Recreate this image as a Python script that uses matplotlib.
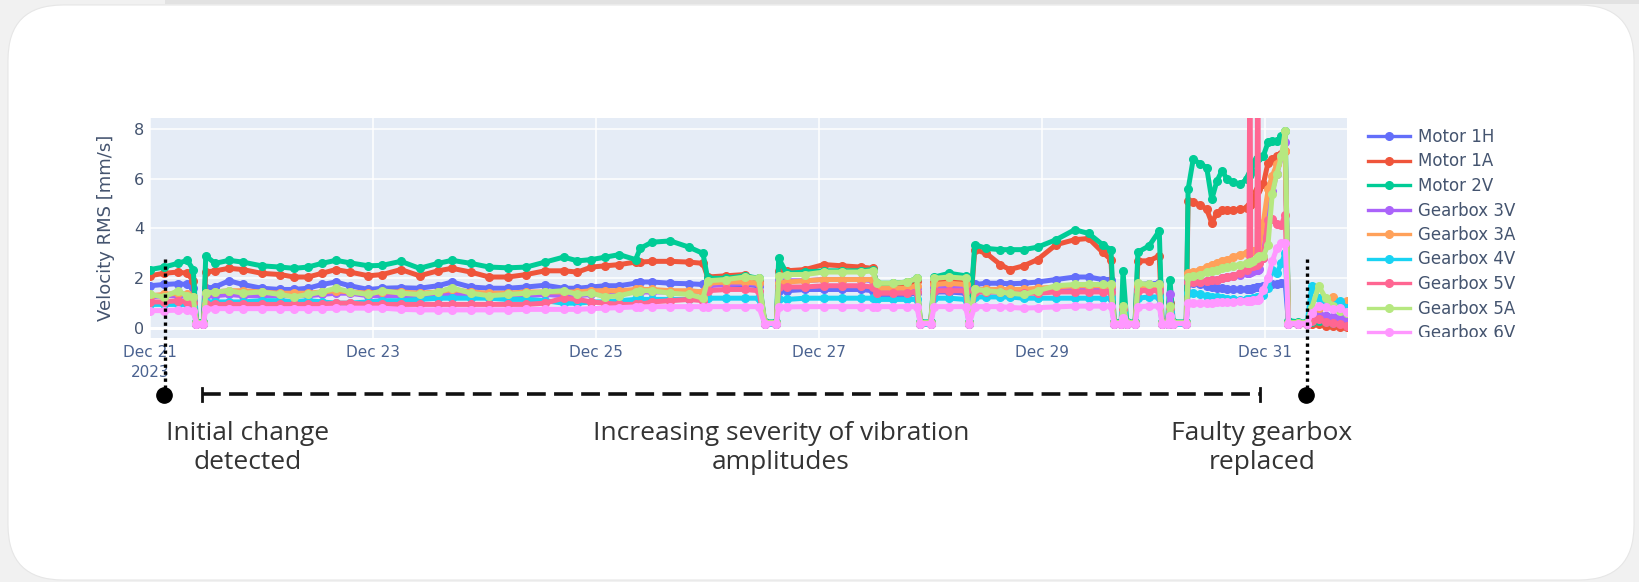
import matplotlib
matplotlib.use('Agg')
import matplotlib.pyplot as plt
import matplotlib.dates as mdates
from matplotlib.patches import FancyBboxPatch, Rectangle
from matplotlib.lines import Line2D
import datetime

# sample times, hours after 2023-12-21 00:00
hours = [0, 3, 6, 8, 9.3, 10, 11.5, 12, 14, 17,
         20, 24, 28, 31, 34, 37, 40, 43, 47, 50,
         54, 58, 62, 65, 69, 73, 77, 81, 85, 89,
         92, 95, 98, 101, 104.5, 105.5, 108, 112, 116, 119,
         120, 124, 128, 131, 132.3, 134.8, 135.3, 137, 141, 145,
         149, 153, 155.5, 156.5, 160, 163, 165, 165.8, 168, 168.8,
         172, 175.5, 176.3, 177.5, 180, 183, 185, 188, 191, 195,
         199, 202, 205, 206.8, 207.5, 209, 209.4, 210.2, 212, 212.6,
         215, 217.2, 217.8, 219, 219.5, 220.2, 223, 223.4, 224.5, 226,
         227.4, 228.5, 229.6, 230.7, 231.8, 233, 234.6, 236, 236.5, 236.7,
         236.9, 237.4, 238.2, 238.4, 238.6, 239.6, 240.6, 241.5, 242.5, 243.5,
         244.3, 245, 247, 249, 250, 251.5, 253, 254.5, 256, 257.5]

motor_1h = [1.70, 1.75, 1.78, 1.75, 1.60, 0.20, 0.20, 1.60, 1.65, 1.90,
            1.75, 1.60, 1.55, 1.55, 1.60, 1.75, 1.85, 1.70, 1.55, 1.60,
            1.62, 1.60, 1.70, 1.85, 1.65, 1.60, 1.60, 1.65, 1.72, 1.60,
            1.60, 1.65, 1.70, 1.70, 1.80, 1.85, 1.85, 1.80, 1.78, 1.75,
            1.75, 1.75, 1.75, 1.70, 0.20, 0.20, 1.50, 1.50, 1.55, 1.55,
            1.55, 1.55, 1.50, 1.35, 1.35, 1.35, 1.40, 0.20, 0.20, 1.45,
            1.45, 1.40, 0.20, 1.75, 1.80, 1.80, 1.78, 1.80, 1.85, 1.95,
            2.05, 2.05, 1.95, 1.95, 0.20, 0.20, 0.90, 0.20, 0.20, 1.75,
            1.78, 1.80, 0.20, 0.20, 0.90, 0.20, 0.20, 1.80, 1.80, 1.75,
            1.70, 1.65, 1.60, 1.60, 1.55, 1.55, 1.55, 1.55, 1.55, 1.55,
            1.55, 1.60, 1.65, 1.65, 1.65, 1.70, 1.73, 1.75, 1.78, 1.80,
            1.80, 0.20, 0.20, 0.20, 0.40, 0.45, 0.50, 0.45, 0.40, 0.40]

motor_1a = [2.10, 2.20, 2.25, 2.20, 1.90, 0.20, 0.20, 2.25, 2.30, 2.40,
            2.35, 2.20, 2.15, 2.05, 2.05, 2.20, 2.35, 2.25, 2.10, 2.15,
            2.35, 2.10, 2.30, 2.40, 2.25, 2.05, 2.05, 2.15, 2.30, 2.30,
            2.25, 2.45, 2.50, 2.55, 2.65, 2.65, 2.68, 2.68, 2.65, 2.60,
            2.05, 2.10, 2.15, 1.90, 0.20, 0.20, 2.30, 2.30, 2.35, 2.55,
            2.50, 2.45, 2.40, 1.75, 1.75, 1.75, 1.90, 0.20, 0.20, 1.85,
            1.95, 1.90, 0.20, 3.15, 3.00, 2.55, 2.35, 2.50, 2.75, 3.35,
            3.55, 3.60, 3.05, 2.75, 0.20, 0.20, 0.90, 0.20, 0.20, 2.70,
            2.70, 2.90, 0.20, 0.20, 1.00, 0.20, 0.20, 5.10, 5.05, 4.95,
            4.77, 4.23, 4.63, 4.75, 4.75, 4.75, 4.77, 4.83, 4.90, 4.95,
            5.00, 5.17, 5.50, 5.60, 5.70, 5.78, 6.65, 6.80, 6.92, 7.00,
            7.12, 0.20, 0.18, 0.15, 0.15, 0.15, 0.10, 0.10, 0.05, 0.05]

motor_2v = [2.35, 2.45, 2.60, 2.72, 2.35, 0.25, 0.25, 2.90, 2.60, 2.72,
            2.65, 2.50, 2.45, 2.40, 2.45, 2.60, 2.72, 2.62, 2.50, 2.52,
            2.68, 2.40, 2.60, 2.72, 2.60, 2.45, 2.42, 2.45, 2.65, 2.85,
            2.70, 2.75, 2.85, 2.95, 2.75, 3.20, 3.45, 3.50, 3.25, 3.00,
            2.00, 2.00, 2.10, 2.00, 0.25, 0.25, 2.80, 2.20, 2.25, 2.30,
            2.30, 2.30, 2.35, 1.80, 1.80, 1.85, 2.00, 0.25, 0.25, 2.05,
            2.20, 2.10, 0.25, 3.35, 3.20, 3.15, 3.15, 3.15, 3.25, 3.55,
            3.95, 3.80, 3.35, 3.15, 0.25, 0.25, 2.28, 0.25, 0.25, 3.05,
            3.30, 3.90, 0.25, 0.25, 1.95, 0.25, 0.25, 5.57, 6.78, 6.60,
            6.45, 5.17, 5.91, 6.32, 5.98, 5.85, 5.78, 5.98, 6.10, 6.20,
            6.30, 6.65, 6.80, 6.85, 6.88, 6.92, 7.46, 7.50, 7.53, 7.70,
            7.93, 0.30, 0.25, 0.25, 0.25, 0.30, 0.25, 0.20, 0.20, 0.20]

gearbox_3v = [1.25, 1.30, 1.30, 1.30, 1.20, 0.18, 0.18, 1.30, 1.30, 1.35,
              1.30, 1.30, 1.30, 1.30, 1.30, 1.35, 1.40, 1.40, 1.30, 1.30,
              1.30, 1.30, 1.35, 1.40, 1.35, 1.30, 1.30, 1.30, 1.35, 1.30,
              1.30, 1.35, 1.40, 1.40, 1.45, 1.45, 1.45, 1.45, 1.45, 1.45,
              1.70, 1.75, 1.80, 1.75, 0.18, 0.18, 1.90, 1.90, 1.90, 1.95,
              1.95, 1.95, 1.90, 1.50, 1.50, 1.50, 1.60, 0.18, 0.18, 1.65,
              1.65, 1.60, 0.18, 1.55, 1.55, 1.55, 1.50, 1.50, 1.50, 1.55,
              1.60, 1.60, 1.60, 1.60, 0.18, 0.18, 0.80, 0.18, 0.18, 1.60,
              1.60, 1.60, 0.18, 0.18, 1.35, 0.18, 0.18, 1.87, 1.87, 1.87,
              1.90, 1.95, 1.95, 2.00, 2.05, 2.10, 2.15, 2.20, 2.22, 2.24,
              2.26, 2.30, 2.33, 2.35, 2.37, 2.80, 4.77, 5.50, 6.20, 6.90,
              7.46, 0.18, 0.18, 0.18, 0.50, 0.55, 0.50, 0.45, 0.40, 0.35]

gearbox_3a = [1.30, 1.35, 1.40, 1.35, 1.25, 0.20, 0.20, 1.40, 1.45, 1.50,
              1.50, 1.45, 1.40, 1.40, 1.40, 1.45, 1.50, 1.45, 1.40, 1.45,
              1.45, 1.40, 1.45, 1.55, 1.45, 1.40, 1.40, 1.45, 1.45, 1.45,
              1.45, 1.50, 1.50, 1.50, 1.55, 1.55, 1.55, 1.50, 1.50, 1.45,
              1.80, 1.85, 1.85, 1.80, 0.20, 0.20, 1.80, 1.85, 1.90, 1.95,
              1.95, 1.95, 1.95, 1.60, 1.60, 1.60, 1.70, 0.20, 0.20, 1.75,
              1.80, 1.75, 0.20, 1.55, 1.55, 1.55, 1.55, 1.55, 1.60, 1.65,
              1.70, 1.70, 1.70, 1.70, 0.20, 0.20, 0.70, 0.20, 0.20, 1.70,
              1.70, 1.70, 0.20, 0.20, 0.80, 0.20, 0.20, 2.20, 2.25, 2.35,
              2.45, 2.55, 2.60, 2.70, 2.75, 2.85, 2.95, 3.02, 3.05, 3.07,
              3.08, 3.10, 3.12, 3.14, 3.15, 4.23, 5.57, 6.10, 6.58, 6.90,
              7.12, 0.20, 0.20, 0.20, 0.60, 0.80, 0.90, 1.25, 1.00, 1.10]

gearbox_4v = [0.95, 0.95, 0.95, 0.95, 0.90, 0.15, 0.15, 1.05, 1.05, 1.05,
              1.05, 1.10, 1.10, 1.05, 1.10, 1.05, 1.00, 1.00, 1.05, 1.10,
              1.10, 1.15, 1.20, 1.20, 1.20, 1.20, 1.15, 1.15, 1.10, 1.00,
              1.00, 1.05, 1.05, 1.10, 1.15, 1.15, 1.15, 1.15, 1.15, 1.15,
              1.20, 1.20, 1.20, 1.20, 0.15, 0.15, 1.15, 1.15, 1.20, 1.20,
              1.20, 1.20, 1.20, 1.15, 1.15, 1.15, 1.15, 0.15, 0.15, 1.20,
              1.20, 1.15, 0.15, 1.25, 1.25, 1.25, 1.25, 1.20, 1.20, 1.20,
              1.20, 1.20, 1.20, 1.20, 0.15, 0.15, 0.60, 0.15, 0.15, 1.20,
              1.25, 1.25, 0.15, 0.15, 0.70, 0.15, 0.15, 1.40, 1.40, 1.35,
              1.30, 1.25, 1.25, 1.20, 1.15, 1.15, 1.13, 1.15, 1.15, 1.15,
              1.15, 1.20, 1.25, 1.25, 1.25, 1.33, 1.60, 2.34, 2.21, 2.60,
              3.02, 0.15, 0.15, 0.15, 1.70, 1.20, 1.00, 0.90, 1.10, 0.80]

gearbox_5v = [1.05, 1.05, 1.10, 1.05, 1.00, 0.18, 0.18, 0.95, 0.95, 0.95,
              0.95, 0.95, 0.95, 0.95, 0.95, 0.95, 1.00, 1.00, 0.95, 0.95,
              0.95, 0.95, 0.95, 0.95, 0.95, 0.95, 0.95, 0.95, 1.00, 1.20,
              1.15, 1.05, 1.00, 0.95, 0.95, 0.95, 1.05, 1.10, 1.15, 1.10,
              1.50, 1.55, 1.55, 1.50, 0.18, 0.18, 1.65, 1.65, 1.65, 1.70,
              1.70, 1.70, 1.65, 1.40, 1.40, 1.40, 1.45, 0.18, 0.18, 1.50,
              1.50, 1.50, 0.18, 1.45, 1.45, 1.45, 1.40, 1.40, 1.40, 1.45,
              1.45, 1.45, 1.45, 1.45, 0.18, 0.18, 0.80, 0.18, 0.18, 1.50,
              1.50, 1.50, 0.18, 0.18, 0.80, 0.18, 0.18, 1.87, 1.85, 1.85,
              1.90, 1.95, 1.95, 2.00, 2.05, 2.10, 2.20, 2.35, 2.45, 12.0,
              2.50, 2.50, 2.55, 12.0, 2.60, 2.80, 4.36, 4.40, 4.20, 4.15,
              4.56, 0.18, 0.15, 0.15, 0.30, 0.35, 0.25, 0.20, 0.15, 0.10]

gearbox_5a = [1.35, 1.25, 1.50, 1.30, 1.25, 0.22, 0.22, 1.40, 1.45, 1.50,
              1.40, 1.45, 1.35, 1.25, 1.35, 1.45, 1.60, 1.45, 1.35, 1.50,
              1.40, 1.35, 1.45, 1.62, 1.40, 1.30, 1.35, 1.40, 1.45, 1.50,
              1.35, 1.40, 1.25, 1.30, 1.45, 1.50, 1.50, 1.40, 1.35, 1.20,
              1.90, 1.95, 2.05, 2.00, 0.22, 0.22, 2.10, 2.15, 2.15, 2.25,
              2.25, 2.25, 2.30, 1.80, 1.80, 1.85, 2.00, 0.22, 0.22, 2.00,
              2.05, 2.00, 0.22, 1.55, 1.50, 1.45, 1.40, 1.35, 1.50, 1.70,
              1.75, 1.75, 1.75, 1.75, 0.22, 0.22, 0.90, 0.22, 0.22, 1.80,
              1.75, 1.75, 0.22, 0.22, 0.90, 0.22, 0.22, 2.07, 2.10, 2.15,
              2.25, 2.30, 2.35, 2.40, 2.45, 2.50, 2.55, 2.60, 2.62, 2.64,
              2.66, 2.70, 2.80, 2.85, 2.89, 2.89, 3.35, 5.37, 6.20, 6.90,
              7.93, 0.22, 0.22, 0.22, 0.80, 1.70, 1.20, 0.90, 0.70, 0.60]

gearbox_6v = [0.70, 0.70, 0.72, 0.72, 0.70, 0.18, 0.18, 0.75, 0.78, 0.78,
              0.78, 0.78, 0.78, 0.78, 0.78, 0.78, 0.80, 0.80, 0.80, 0.80,
              0.75, 0.73, 0.73, 0.73, 0.73, 0.73, 0.73, 0.75, 0.75, 0.75,
              0.75, 0.78, 0.80, 0.82, 0.85, 0.85, 0.86, 0.86, 0.86, 0.86,
              0.86, 0.86, 0.86, 0.86, 0.18, 0.18, 0.85, 0.85, 0.86, 0.86,
              0.86, 0.86, 0.86, 0.86, 0.86, 0.86, 0.86, 0.18, 0.18, 0.86,
              0.86, 0.86, 0.18, 0.86, 0.86, 0.86, 0.83, 0.80, 0.82, 0.85,
              0.88, 0.88, 0.88, 0.88, 0.18, 0.18, 0.40, 0.18, 0.18, 0.86,
              0.88, 0.88, 0.18, 0.18, 0.50, 0.18, 0.18, 1.00, 1.00, 1.00,
              1.00, 1.00, 1.05, 1.05, 1.05, 1.05, 1.10, 1.10, 1.10, 1.10,
              1.10, 1.12, 1.13, 1.14, 1.15, 1.53, 2.00, 2.68, 3.20, 3.42,
              3.42, 0.18, 0.18, 0.18, 0.60, 0.90, 0.85, 0.75, 0.80, 0.65]

labels = ['Motor 1H', 'Motor 1A', 'Motor 2V', 'Gearbox 3V', 'Gearbox 3A',
          'Gearbox 4V', 'Gearbox 5V', 'Gearbox 5A', 'Gearbox 6V']
colors = ['#636EFA', '#EF553B', '#00CC96', '#AB63FA', '#FFA15A',
          '#19D3F3', '#FF6692', '#B6E880', '#FF97FF']
tick_days = [21, 23, 25, 27, 29, 31]
tick_labels = ['Dec 21\n2023', 'Dec 23', 'Dec 25', 'Dec 27', 'Dec 29', 'Dec 31']

W, H = 1639, 582
def fx(px):
    return px / W
def fy(py):
    return 1 - py / H

start = datetime.datetime(2023, 12, 21)
times = [start + datetime.timedelta(hours=h) for h in hours]

fig = plt.figure(figsize=(W / 100, H / 100), dpi=100)
fig.patch.set_facecolor('#f1f1f1')

# white card behind everything
fig.add_artist(Rectangle((fx(165), fy(4)), 1 - fx(165), 4 / H, transform=fig.transFigure,
                         facecolor='#e2e2e2', edgecolor='none', zorder=0))
card = FancyBboxPatch((0.08, 0.02), 16.26, 5.75, boxstyle='round,pad=0,rounding_size=0.55',
                      transform=fig.dpi_scale_trans, facecolor='white', edgecolor='#e6e6e6',
                      lw=0.8, zorder=0)
fig.add_artist(card)

ax = fig.add_axes([fx(150), fy(338), fx(1347) - fx(150), (338 - 118) / H])
ax.set_facecolor('#E5ECF6')
for s in ax.spines.values():
    s.set_visible(False)

for vals, name, col in zip([motor_1h, motor_1a, motor_2v, gearbox_3v, gearbox_3a,
                            gearbox_4v, gearbox_5v, gearbox_5a, gearbox_6v], labels, colors):
    ax.plot(times, vals, color=col, lw=3.6, marker='o', ms=5.5, label=name,
            solid_joinstyle='round', zorder=3)

ax.set_xlim(start, start + datetime.timedelta(hours=257.6))
ax.set_ylim(-0.4, 8.44)
ax.set_yticks([0, 2, 4, 6, 8])
ax.set_xticks([datetime.datetime(2023, 12, d) for d in tick_days])
ax.set_xticklabels(tick_labels, linespacing=1.45)
ax.grid(True, color='white', lw=1.1, zorder=1)
ax.axhline(0, color='white', lw=2.2, zorder=2)
ax.set_axisbelow(True)
ax.tick_params(axis='both', length=0)
ax.tick_params(axis='y', pad=4, labelsize=11.5, labelcolor='#44546f')
ax.tick_params(axis='x', pad=5, labelsize=11, labelcolor='#4a6290')
ax.set_ylabel('Velocity RMS [mm/s]', fontsize=13, color='#44546f', labelpad=14)

leg = ax.legend(loc='upper left', bbox_to_anchor=(fx(1368), fy(128)),
                bbox_transform=fig.transFigure, frameon=False, borderpad=0,
                borderaxespad=0, handlelength=2.5, handletextpad=0.5,
                labelspacing=0.39, fontsize=12, labelcolor='#44546f')
# the screenshot cuts the legend off just under the last entry
clip = Rectangle((0, fy(337)), 1, 1 - fy(337), transform=fig.transFigure)
for art in leg.get_texts() + leg.get_lines():
    art.set_clip_path(clip)
for line in leg.get_lines():
    line.set_linewidth(2.4)

# annotations under the chart
dot_style = dict(color='black', lw=2.4, linestyle=(0, (1, 1.1)), transform=fig.transFigure, zorder=6)
fig.add_artist(Line2D([fx(165), fx(165)], [fy(259), fy(392)], **dot_style))
fig.add_artist(Line2D([fx(1307), fx(1307)], [fy(259), fy(392)], **dot_style))
for x in [164, 1306]:
    fig.add_artist(Line2D([fx(x)], [fy(395)], marker='o', ms=11, color='black',
                          transform=fig.transFigure, zorder=7))
fig.add_artist(Line2D([fx(202), fx(1260)], [fy(394), fy(394)], color='#111111', lw=2.6,
                      linestyle=(0, (5.2, 2.3)), transform=fig.transFigure, zorder=6))
for x in [202, 1260]:
    fig.add_artist(Line2D([fx(x), fx(x)], [fy(388), fy(401)], color='#111111', lw=2,
                          transform=fig.transFigure, zorder=6))

txt = dict(ha='center', va='center', fontsize=19, color='#333333', family='Open Sans',
           linespacing=1.2)
fig.text(fx(248), fy(448), 'Initial change\ndetected', **txt)
fig.text(fx(781), fy(448), 'Increasing severity of vibration\namplitudes', **txt)
fig.text(fx(1262), fy(448), 'Faulty gearbox\nreplaced', **txt)

fig.savefig('out.png', dpi=100, facecolor=fig.get_facecolor())
